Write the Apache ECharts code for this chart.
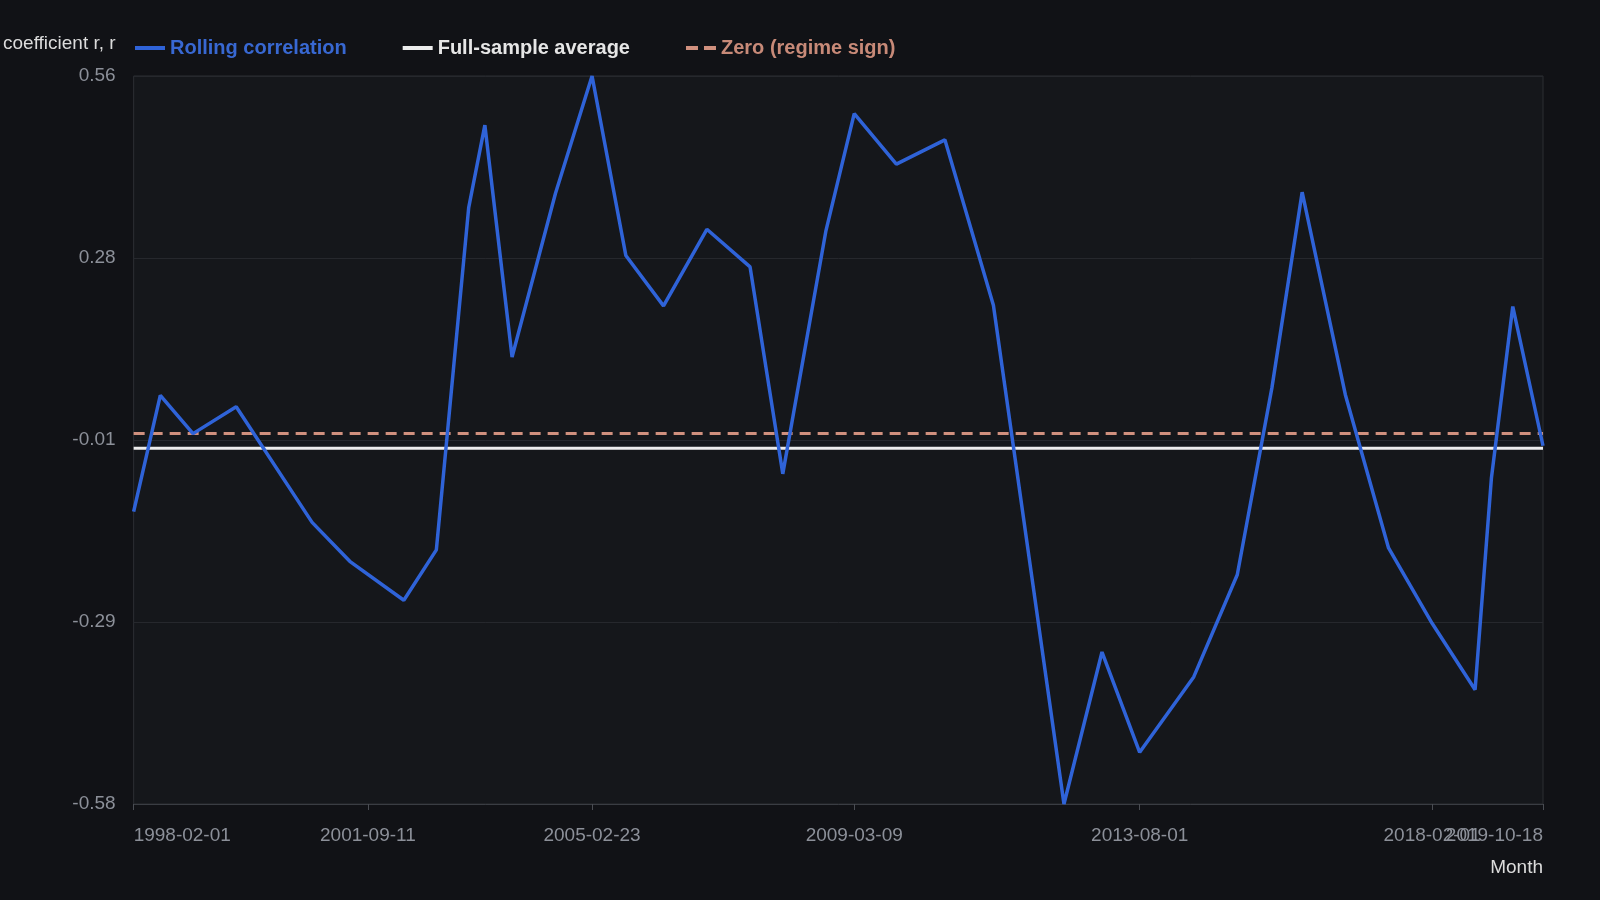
<!DOCTYPE html>
<html>
<head>
<meta charset="utf-8">
<script src="https://cdn.jsdelivr.net/npm/echarts@6.0.0/dist/echarts.min.js"></script>
<style>
  html, body { margin: 0; padding: 0; background: #111216; }
  #chart { width: 1600px; height: 900px; }
</style>
</head>
<body>
<div id="chart"></div>
<script>
// ---- data ----
const dates = ['1998-02-01','1998-07-01','1999-01-01','1999-09-01','2000-11-01','2001-06-01','2002-04-01','2002-10-01','2003-04-01','2003-07-01','2003-12-01','2004-08-01','2005-02-23','2005-09-01','2006-04-01','2006-12-01','2007-08-01','2008-02-01','2008-10-01','2009-03-09','2009-11-01','2010-08-01','2011-05-01','2012-06-01','2013-01-01','2013-08-01','2014-06-01','2015-02-01','2015-08-15','2016-02-01','2016-10-01','2017-06-01','2018-02-01','2018-10-01','2019-01-01','2019-05-01','2019-10-18'];
const rolling = [-0.122,0.060,0.000,0.042,-0.139,-0.200,-0.261,-0.182,0.354,0.483,0.120,0.376,0.560,0.279,0.200,0.320,0.261,-0.063,0.318,0.501,0.422,0.460,0.201,-0.580,-0.342,-0.499,-0.381,-0.221,0.072,0.378,0.061,-0.179,-0.297,-0.401,-0.069,0.199,-0.019];
const fullSampleAverage = -0.023;
const zeroLevel = 0;
const tickDates = ['1998-02-01','2001-09-11','2005-02-23','2009-03-09','2013-08-01','2019-10-18'];
const tickDatesOverlap = ['2018-02-01'];
const yMin = -0.58, yMax = 0.56, yStep = 0.285;
const seriesNames = ['Rolling correlation', 'Full-sample average', 'Zero (regime sign)'];

function parseDate(s) {
  const p = s.split('-').map(Number);
  return new Date(p[0], p[1] - 1, p[2]).getTime();
}
function pad(n) { return (n < 10 ? '0' : '') + n; }
function fmtDate(v) {
  const d = new Date(v);
  return d.getFullYear() + '-' + pad(d.getMonth() + 1) + '-' + pad(d.getDate());
}

const tMin = parseDate(dates[0]);
const tMax = parseDate(dates[dates.length - 1]);
const tickValues = tickDates.map(parseDate);
const tickValuesOverlap = tickDatesOverlap.map(parseDate);
const rollingData = dates.map((d, i) => [parseDate(d), rolling[i]]);
const avgData = [[tMin, fullSampleAverage], [tMax, fullSampleAverage]];
const zeroData = [[tMin, zeroLevel], [tMax, zeroLevel]];

const FONT = "'Liberation Sans', Arial, Helvetica, sans-serif";
const BLUE = '#2f63d8';
const WHITE = '#ececec';
const SALMON = '#d0907e';
const LABEL_GREY = '#8c9099';

const xLabelBase = {
  formatter: fmtDate,
  color: LABEL_GREY,
  fontSize: 19,
  fontFamily: FONT,
  margin: 22,
  hideOverlap: false
};

const chart = echarts.init(document.getElementById('chart'));
chart.setOption({
  backgroundColor: '#111216',
  animation: false,
  textStyle: { fontFamily: FONT },
  legend: {
    left: 130,
    top: 33,
    itemWidth: 30,
    itemHeight: 4,
    itemGap: 56,
    textStyle: { fontFamily: FONT, fontSize: 20, fontWeight: 'bold' },
    data: [
      { name: seriesNames[0], icon: 'rect', textStyle: { color: '#3868d2' } },
      { name: seriesNames[1], icon: 'rect', textStyle: { color: '#e6e6e6' } },
      { name: seriesNames[2], icon: 'path://M0,0H12V4H0Z M18,0H30V4H18Z', textStyle: { color: '#c88a78' } }
    ]
  },
  grid: {
    left: 132, right: 57, top: 76, bottom: 96,
    show: true,
    backgroundColor: '#15171b',
    borderColor: '#2c2e33',
    borderWidth: 1
  },
  xAxis: [
    {
      type: 'value',
      min: tMin,
      max: tMax,
      scale: true,
      position: 'bottom',
      name: 'Month',
      nameLocation: 'end',
      nameGap: 0,
      nameTextStyle: {
        color: '#dcdcdc', fontSize: 19, fontFamily: FONT,
        align: 'right', verticalAlign: 'top', padding: [54, 0, 0, 0]
      },
      axisLine: { show: true, onZero: false, lineStyle: { color: '#3a3d43', width: 1 } },
      axisTick: { show: true, length: 6, lineStyle: { color: '#4a4d53' }, customValues: tickValues },
      axisLabel: Object.assign({
        customValues: tickValues,
        alignMinLabel: 'left',
        alignMaxLabel: 'right',
        showMinLabel: true,
        showMaxLabel: true
      }, xLabelBase),
      splitLine: { show: false }
    },
    {
      type: 'value',
      min: tMin,
      max: tMax,
      scale: true,
      position: 'bottom',
      axisLine: { show: false, onZero: false },
      axisTick: { show: true, length: 6, lineStyle: { color: '#4a4d53' }, customValues: tickValuesOverlap },
      axisLabel: Object.assign({ customValues: tickValuesOverlap }, xLabelBase),
      splitLine: { show: false }
    }
  ],
  yAxis: {
    type: 'value',
    min: yMin,
    max: yMax,
    interval: yStep,
    name: 'coefficient r, r',
    nameLocation: 'end',
    nameGap: 32,
    nameTextStyle: {
      color: '#dcdcdc', fontSize: 19, fontFamily: FONT,
      align: 'right', verticalAlign: 'middle', padding: [0, 18, 0, 0]
    },
    axisLine: { show: false },
    axisTick: { show: false },
    axisLabel: {
      color: LABEL_GREY, fontSize: 19, fontFamily: FONT, margin: 18,
      padding: [4, 0, 0, 0],
      formatter: v => v.toFixed(2)
    },
    splitLine: { show: true, lineStyle: { color: '#26282d', width: 1 } }
  },
  series: [
    {
      name: seriesNames[0],
      type: 'line',
      xAxisIndex: 0,
      data: rollingData,
      symbol: 'none',
      lineStyle: { color: BLUE, width: 3.5 },
      itemStyle: { color: BLUE },
      z: 3
    },
    {
      name: seriesNames[1],
      type: 'line',
      xAxisIndex: 0,
      data: avgData,
      symbol: 'none',
      lineStyle: { color: WHITE, width: 3 },
      itemStyle: { color: WHITE },
      z: 2
    },
    {
      name: seriesNames[2],
      type: 'line',
      xAxisIndex: 0,
      data: zeroData,
      symbol: 'none',
      lineStyle: { color: SALMON, width: 3, type: [11, 7] },
      itemStyle: { color: SALMON },
      z: 2
    }
  ]
});
</script>
</body>
</html>
